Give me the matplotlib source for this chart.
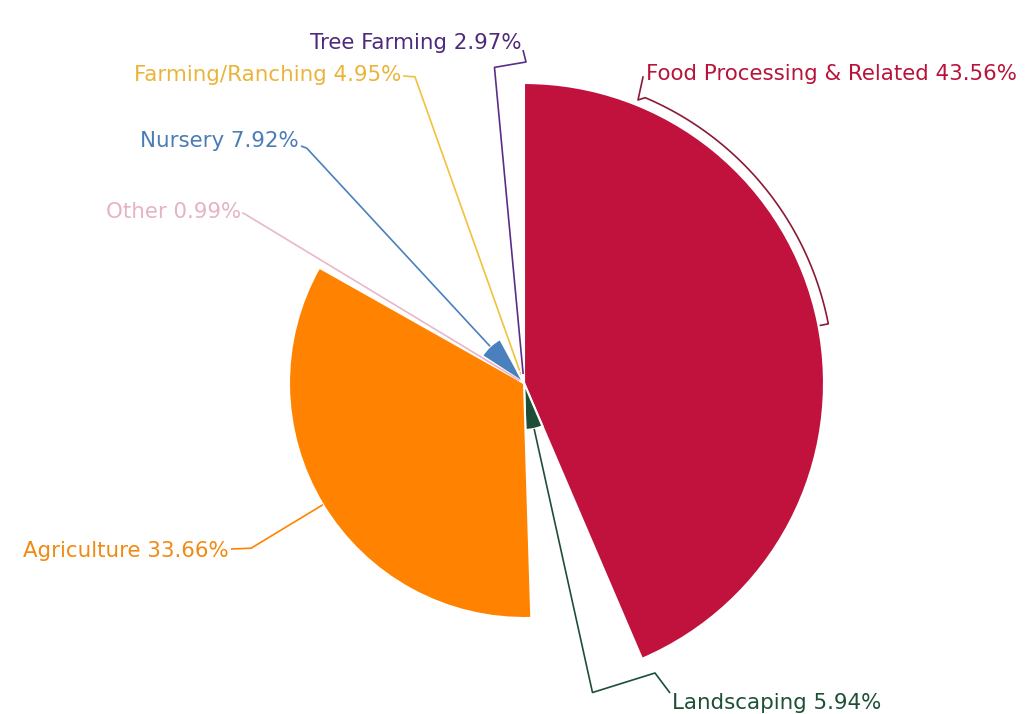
import numpy as np
import matplotlib
matplotlib.use("Agg")
import matplotlib.pyplot as plt
from matplotlib.patches import Wedge

# ---- data ----
categories = ["Food Processing & Related", "Landscaping", "Agriculture", "Other",
              "Nursery", "Farming/Ranching", "Tree Farming"]
percents = [43.56, 5.94, 33.66, 0.99, 7.92, 4.95, 2.97]
radii = [300, 47, 235, 5, 50, 13, 9]          # slice radius (px)
colors = ["#c0123c", "#1d4f36", "#ff8300", "#e9b7cb", "#4a80bd", "#f2c23c", "#5a2d88"]
text_colors = ["#b8143a", "#1d4f36", "#f08a10", "#e6b2c6", "#4a7cb6", "#eab43a", "#4e2a7a"]

# ---- layout (pixel coordinates, y downward) ----
W, H = 1036, 714
CX, CY = 524, 383
FONT = "DejaVu Sans"
FS = 15.4

def P(x, y):
    return x, H - y

fig = plt.figure(figsize=(W / 100, H / 100), dpi=100)
ax = fig.add_axes([0, 0, 1, 1])
ax.set_xlim(0, W)
ax.set_ylim(0, H)
ax.set_aspect("equal")
ax.axis("off")

total = sum(percents)
start = 0.0
mids = []
for cat, pct, r, c in zip(categories, percents, radii, colors):
    span = 360.0 * pct / total
    t0, t1 = start, start + span
    w = Wedge(P(CX, CY), r, 90 - t1, 90 - t0, facecolor=c, edgecolor="white", linewidth=1.5)
    ax.add_patch(w)
    mids.append((t0 + t1) / 2)
    start = t1

def polar(theta, r):
    th = np.radians(theta)
    return CX + r * np.sin(th), CY - r * np.cos(th)

# label text positions and extra path points
labels = {
    "Landscaping": dict(elbow=317, path=[(655, 673), (670, 693)], text=(672, 703), ha="left"),
    "Agriculture": dict(elbow=319, path=[(231, 549)], text=(229, 551), ha="right"),
    "Other": dict(elbow=327, path=[(242, 213)], text=(241, 212), ha="right"),
    "Nursery": dict(elbow=320, path=[(301, 146)], text=(299, 141), ha="right"),
    "Farming/Ranching": dict(elbow=325, path=[(403, 76)], text=(401, 75), ha="right"),
    "Tree Farming": dict(elbow=317, path=[(526, 62), (523, 50)], text=(522, 43), ha="right"),
}

for i, cat in enumerate(categories):
    lab = f"{cat} {percents[i]:.2f}%"
    if cat in labels:
        L = labels[cat]
        x0, y0 = polar(mids[i], radii[i])
        x1, y1 = polar(mids[i], L["elbow"])
        pts = [(x0, y0), (x1, y1)] + L["path"]
        xs = [p[0] for p in pts]
        ys = [H - p[1] for p in pts]
        ax.plot(xs, ys, color=colors[i], lw=1.2, solid_capstyle="butt")
        tx, ty = L["text"]
        ax.text(tx, H - ty, lab, color=text_colors[i], fontsize=FS, family=FONT,
                ha=L["ha"], va="center")
    else:
        # bracket along the big slice
        th = np.linspace(23, 79, 80)
        arc = [polar(t, 310) for t in th]
        e1 = polar(79, 302)
        pts = [(643, 77), (638, 100)] + arc + [e1]
        xs = [p[0] for p in pts]
        ys = [H - p[1] for p in pts]
        ax.plot(xs, ys, color="#8a1a36", lw=1.2)
        ax.text(646, H - 74, lab, color=text_colors[i], fontsize=FS, family=FONT,
                ha="left", va="center")

fig.savefig("out.png", dpi=100, facecolor="white")
